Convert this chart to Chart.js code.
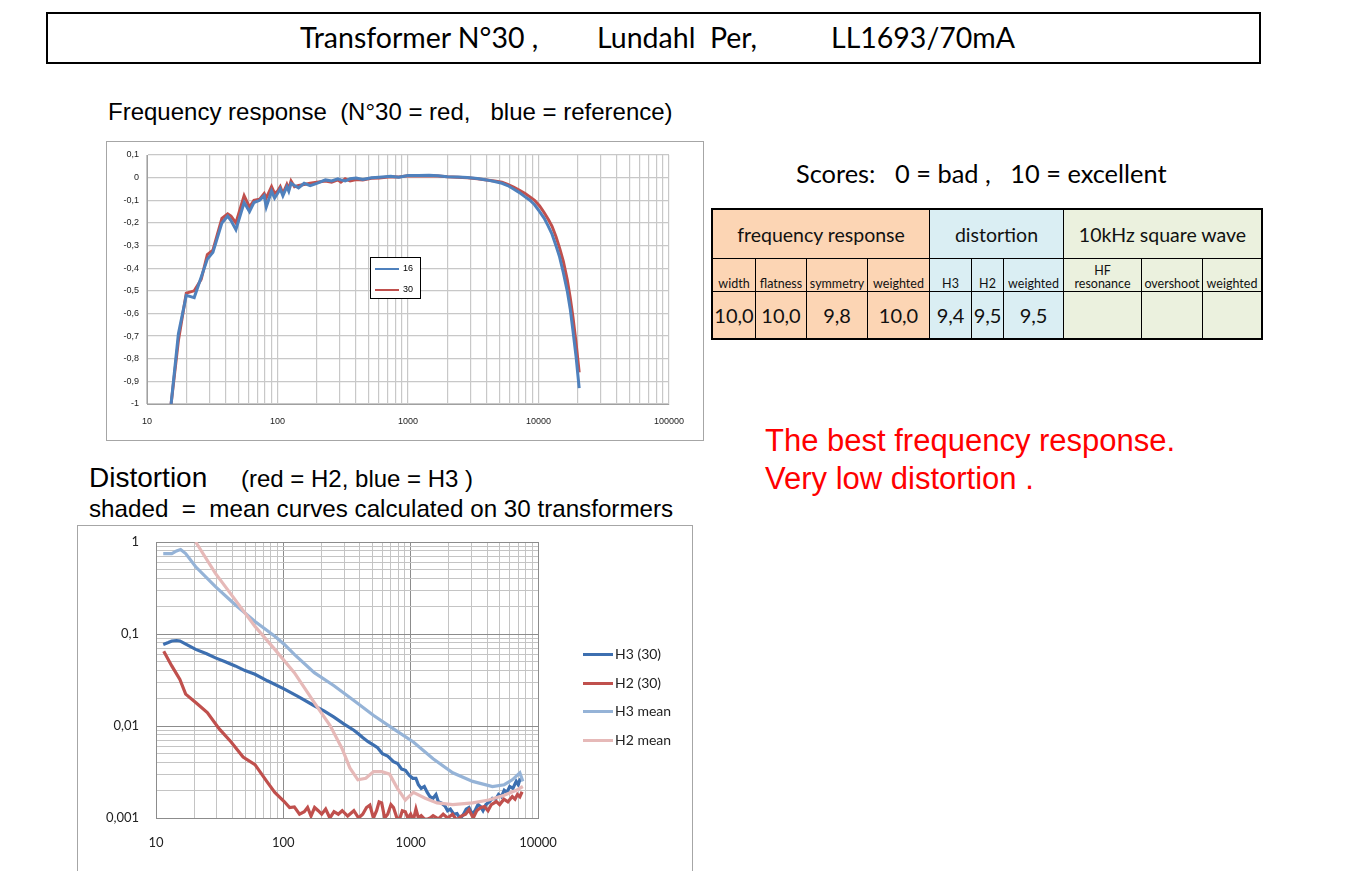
<!DOCTYPE html>
<html>
<head>
<meta charset="utf-8">
<script src="https://cdn.jsdelivr.net/npm/chart.js@4.4.1/dist/chart.umd.min.js"></script>
<style>
  body { margin: 0; width: 1348px; height: 871px; background: #fff; position: relative; overflow: hidden; font-family: "Liberation Sans", Arial, sans-serif; }
  .abs { position: absolute; white-space: pre; }
  #titleBox { left: 46px; top: 12px; width: 1211px; height: 48px; border: 2px solid #000; }
  .cal { font-family: Lato, "Open Sans", sans-serif; }
  #frame1 { left: 106px; top: 141px; width: 596px; height: 298px; border: 1px solid #a6a6a6; }
  #frame2 { left: 77px; top: 525px; width: 614px; height: 360px; border: 1px solid #a6a6a6; }
  .leg1 { left: 370px; top: 257px; width: 49px; height: 40px; border: 1px solid #000; background: #fff; font-size: 9px; }
  .sw { position: absolute; height: 0; }
  table { position: absolute; left: 711px; top: 208px; border-collapse: collapse; font-family: Lato, "Open Sans", sans-serif; border: 2px solid #000; }
  td { border: 1px solid #000; text-align: center; padding: 0; color: #111; }
  .o { background: #fcd5b4; } .b { background: #daeef3; } .g { background: #ebf1de; }
  .h td { height: 48px; font-size: 19.5px; }
  .s td { height: 31px; font-size: 12.5px; vertical-align: bottom; padding-bottom: 1px; line-height: 13px; }
  .v td { height: 46px; font-size: 20px; }
</style>
</head>
<body>
<div class="abs" id="titleBox"></div>
<div class="abs cal" style="left:300px;top:20px;font-size:28.5px;">Transformer N°30 ,</div>
<div class="abs cal" style="left:597px;top:20px;font-size:28.5px;">Lundahl  Per,</div>
<div class="abs cal" style="left:831px;top:20px;font-size:28.5px;">LL1693/70mA</div>

<div class="abs" style="left:108px;top:98px;font-size:24px;">Frequency response  (N°30 = red,   blue = reference)</div>
<div class="abs" id="frame1"></div>
<div class="abs" style="left:107px;top:142px;width:596px;height:298px;"><canvas id="freqChart"></canvas></div>
<div class="abs leg1">
  <div class="sw" style="left:4px;top:10px;width:24px;border-top:2px solid #4f81bd;"></div>
  <div class="abs" style="left:32px;top:5px;">16</div>
  <div class="sw" style="left:4px;top:31px;width:24px;border-top:2px solid #c0504d;"></div>
  <div class="abs" style="left:32px;top:26px;">30</div>
</div>

<div class="abs" style="left:89px;top:462px;font-size:28px;">Distortion</div>
<div class="abs" style="left:241px;top:465px;font-size:24px;">(red = H2, blue = H3 )</div>
<div class="abs" style="left:89px;top:495px;font-size:24.2px;">shaded  =  mean curves calculated on 30 transformers</div>
<div class="abs" id="frame2"></div>
<div class="abs" style="left:78px;top:526px;width:614px;height:345px;"><canvas id="distChart"></canvas></div>
<div id="leg2"></div>

<div class="abs cal" style="left:796px;top:158px;font-size:25.4px;">Scores:   0 = bad ,   10 = excellent</div>
<table>
  <tr class="h">
    <td class="o" colspan="4" style="width:216px;">frequency response</td>
    <td class="b" colspan="3" style="width:133px;">distortion</td>
    <td class="g" colspan="3" style="width:197px;">10kHz  square wave</td>
  </tr>
  <tr class="s">
    <td class="o" style="width:42px;">width</td>
    <td class="o" style="width:50px;">flatness</td>
    <td class="o" style="width:60px;">symmetry</td>
    <td class="o" style="width:61px;">weighted</td>
    <td class="b" style="width:41px;">H3</td>
    <td class="b" style="width:31px;">H2</td>
    <td class="b" style="width:59px;">weighted</td>
    <td class="g" style="width:77px;">HF<br>resonance</td>
    <td class="g" style="width:60px;">overshoot</td>
    <td class="g" style="width:58px;">weighted</td>
  </tr>
  <tr class="v">
    <td class="o">10,0</td><td class="o">10,0</td><td class="o">9,8</td><td class="o">10,0</td>
    <td class="b">9,4</td><td class="b">9,5</td><td class="b">9,5</td>
    <td class="g"></td><td class="g"></td><td class="g"></td>
  </tr>
</table>

<div class="abs" style="left:765px;top:423px;font-size:31px;color:#ff0000;">The best frequency response.</div>
<div class="abs" style="left:765px;top:461px;font-size:31px;color:#ff0000;">Very low distortion .</div>

<script>
// ---- frequency response (dB) ----
const respFreq = [15.3, 17.4, 20, 23, 26, 29, 32, 37.5, 41.5, 44, 48, 55.5, 61, 66, 73, 79, 82, 90, 95, 100,
  105, 110, 118, 122, 127, 135, 145, 160, 178, 200, 233, 260, 290, 306, 330, 360, 401, 450, 525, 600,
  738, 850, 1000, 1200, 1450, 1700, 2000, 2400, 2850, 3400, 4000, 4600, 5250, 5800, 6440, 7100, 7900, 8600,
  9330, 10200, 11070, 11900, 12700, 13600, 14500, 15500, 16600, 17500, 18400, 19400, 20500];
const resp30 = [-1.00, -0.72, -0.51, -0.50, -0.45, -0.34, -0.32, -0.18, -0.16, -0.17, -0.20, -0.08, -0.13, -0.10, -0.095, -0.07, -0.09, -0.04, -0.07, -0.06,
  -0.04, -0.07, -0.03, -0.05, -0.015, -0.04, -0.035, -0.03, -0.025, -0.02, -0.015, -0.02, -0.01, -0.02, -0.005, -0.015, -0.008, -0.01, -0.003, -0.002,
  0.004, 0.003, 0.008, 0.007, 0.008, 0.007, 0.004, 0.002, 0.0, -0.005, -0.01, -0.015, -0.02, -0.03, -0.042, -0.055, -0.07, -0.085,
  -0.10, -0.125, -0.155, -0.185, -0.215, -0.26, -0.31, -0.37, -0.45, -0.53, -0.62, -0.73, -0.86];
const resp16 = [-1.00, -0.69, -0.52, -0.53, -0.44, -0.36, -0.33, -0.20, -0.17, -0.19, -0.23, -0.11, -0.15, -0.11, -0.10, -0.08, -0.13, -0.06, -0.09, -0.07,
  -0.05, -0.08, -0.04, -0.06, -0.025, -0.035, -0.045, -0.025, -0.035, -0.025, -0.01, -0.015, -0.005, -0.01, -0.015, -0.005, -0.002, -0.008, -0.001, 0.002,
  0.006, 0.002, 0.009, 0.009, 0.01, 0.008, 0.004, 0.003, 0.001, -0.004, -0.01, -0.017, -0.025, -0.035, -0.05, -0.065, -0.085, -0.10,
  -0.12, -0.15, -0.18, -0.215, -0.25, -0.30, -0.35, -0.42, -0.50, -0.58, -0.68, -0.79, -0.93];
const respDecades = [10, 100, 1000, 10000, 100000];

// ---- distortion (%) ----
const h3Freq = [11.4, 12.5, 13.3, 14.5, 15.4, 17, 20.5, 25, 29.3, 35, 41.9, 50, 59.9, 75, 102, 130, 175, 210, 250, 300,
  358, 390, 420, 460, 512, 550, 600, 660, 733, 790, 850, 910, 976, 1040, 1100, 1150, 1210, 1280, 1350, 1420,
  1500, 1580, 1650, 1750, 1860, 1950, 2050, 2180, 2310, 2450, 2600, 2730, 2870, 3050, 3200, 3380, 3540, 3700, 3900, 4150,
  4390, 4650, 4900, 5150, 5430, 5700, 6000, 6350, 6740, 7000, 7200, 7500];
const h3Vals = [0.077, 0.081, 0.084, 0.085, 0.084, 0.078, 0.068, 0.061, 0.055, 0.05, 0.045, 0.04, 0.0365, 0.031, 0.0252, 0.021, 0.0166, 0.0145, 0.0125, 0.0105,
  0.009, 0.0082, 0.0075, 0.0068, 0.0062, 0.0058, 0.005, 0.0047, 0.0041, 0.0039, 0.0034, 0.0033, 0.0029, 0.0027, 0.0027, 0.0023, 0.0021, 0.0022, 0.0019, 0.0017,
  0.00164, 0.0018, 0.0015, 0.00145, 0.00135, 0.0012, 0.00125, 0.0011, 0.00112, 0.00098, 0.0011, 0.00125, 0.0013, 0.0011, 0.0012, 0.0014, 0.00133, 0.0012, 0.0014, 0.0015,
  0.00164, 0.0016, 0.0018, 0.0017, 0.002, 0.0019, 0.0022, 0.0021, 0.0025, 0.0023, 0.0026, 0.0027];
const h2Freq = [11.5, 13.3, 15.4, 17.1, 20.5, 25.3, 31.4, 38.9, 48.3, 59.9, 74.1, 85.7,
  102, 112, 122, 134, 146, 155, 165, 176, 188, 200, 215, 232, 250, 270, 290, 320, 358, 390, 420, 450,
  478, 510, 540, 565, 592, 625, 660, 700, 733, 780, 820, 860, 908, 950, 1000, 1050, 1100, 1150, 1210, 1280,
  1350, 1420, 1500, 1650, 1800, 1950, 2130, 2300, 2500, 2700, 2870, 3100, 3300, 3550, 3800, 4050, 4300, 4710, 5000, 5400,
  5800, 6280, 6600, 6900, 7200, 7500];
const h2Vals = [0.065, 0.045, 0.032, 0.0222, 0.018, 0.014, 0.0093, 0.0067, 0.0046, 0.0038, 0.0025, 0.0019,
  0.0015, 0.0013, 0.00132, 0.0011, 0.00117, 0.0013, 0.00105, 0.0013, 0.0012, 0.0011, 0.00125, 0.001, 0.00117, 0.0011, 0.0012, 0.00105, 0.0012, 0.001, 0.0011, 0.0013,
  0.00138, 0.001, 0.0012, 0.0015, 0.00146, 0.001, 0.0011, 0.0014, 0.0013, 0.001, 0.00098, 0.0012, 0.00117, 0.001, 0.0011, 0.00095, 0.00125, 0.001, 0.00106, 0.00098,
  0.00097, 0.001, 0.00106, 0.00098, 0.0011, 0.001, 0.0011, 0.00095, 0.00105, 0.0011, 0.00123, 0.001, 0.0012, 0.0013, 0.00133, 0.0012, 0.0014, 0.00151, 0.0014, 0.0016,
  0.0015, 0.00171, 0.0016, 0.0018, 0.0017, 0.00193];
const h3MeanFreq = [11.4, 13.3, 14.5, 15.6, 17.1, 20.5, 29.3, 41.9, 59.9, 85.7, 102, 122, 175, 250, 358, 512, 733, 1050, 1500, 2140, 3070, 4390, 5430, 6280, 7200, 7600];
const h3MeanVals = [0.748, 0.748, 0.8, 0.827, 0.748, 0.538, 0.327, 0.208, 0.137, 0.0946, 0.077, 0.06, 0.038, 0.0274, 0.0189, 0.013, 0.0093, 0.0067, 0.0044, 0.0031, 0.0025, 0.0022, 0.0023, 0.0026, 0.0031, 0.0025];
const h2MeanFreq = [20.5, 29.3, 41.9, 59.9, 85.7, 122, 175, 233, 289, 333, 385, 444, 512, 592, 683, 787, 908, 1050, 1300, 1610, 2140, 3070, 4100, 5430, 6740, 7600];
const h2MeanVals = [1.0, 0.456, 0.235, 0.121, 0.068, 0.038, 0.018, 0.0101, 0.0057, 0.0035, 0.0026, 0.0027, 0.0032, 0.0032, 0.003, 0.0021, 0.00157, 0.0019, 0.00164, 0.00146, 0.0014, 0.00146, 0.00157, 0.00177, 0.002, 0.0022];
const distDecades = [10, 100, 1000, 10000];
const distYDecades = [0.001, 0.01, 0.1, 1];
const distYLabels = ['0,001', '0,01', '0,1', '1'];

const distSeries = [
  { label: 'H3 (30)', freq: h3Freq, vals: h3Vals, color: '#3d6fb0' },
  { label: 'H2 (30)', freq: h2Freq, vals: h2Vals, color: '#c0504d' },
  { label: 'H3 mean', freq: h3MeanFreq, vals: h3MeanVals, color: '#95b3d7' },
  { label: 'H2 mean', freq: h2MeanFreq, vals: h2MeanVals, color: '#e6b9b8' }
];

function pts(freq, vals) {
  return freq.map((f, i) => ({ x: f, y: vals[i] }));
}

// 1..9 x 10^n tick positions between two decades
function logTicks(lo, hi) {
  let t = [];
  for (let d = lo; d < hi; d *= 10) {
    for (let k = 1; k < 10; k++) t.push(Number((k * d).toPrecision(3)));
  }
  t.push(hi);
  return t;
}

function isDecade(v, list) {
  return list.some(d => Math.abs(v / d - 1) < 1e-6);
}

new Chart(document.getElementById('freqChart'), {
  type: 'line',
  data: {
    datasets: [
      { label: '16', data: pts(respFreq, resp16), borderColor: '#4f81bd', borderWidth: 3, pointRadius: 0 },
      { label: '30', data: pts(respFreq, resp30), borderColor: '#c0504d', borderWidth: 3, pointRadius: 0 }
    ]
  },
  options: {
    responsive: true,
    maintainAspectRatio: false,
    animation: false,
    layout: { padding: { top: 13, right: 34, left: 0, bottom: 0 } },
    plugins: { legend: { display: false }, tooltip: { enabled: false } },
    scales: {
      x: {
        type: 'logarithmic', min: 10, max: 100000,
        afterBuildTicks: s => { s.ticks = logTicks(10, 100000).map(v => ({ value: v })); },
        afterFit: s => { s.height = 36; },
        ticks: {
          autoSkip: false, maxRotation: 0, padding: 12,
          font: { family: 'Liberation Sans', size: 9 }, color: '#222',
          callback: v => isDecade(v, respDecades) ? String(v) : ''
        },
        grid: { color: '#c8c8c8', lineWidth: 1.2, drawTicks: false },
        border: { color: '#a0a0a0' }
      },
      y: {
        min: -1, max: 0.1,
        afterBuildTicks: s => { let t = []; for (let i = -10; i <= 1; i++) t.push({ value: i / 10 }); s.ticks = t; },
        afterFit: s => { s.width = 40; s.paddingTop = 0; s.paddingBottom = 0; },
        ticks: {
          padding: 8,
          font: { family: 'Liberation Sans', size: 9 }, color: '#222',
          callback: v => String(Math.round(v * 10) / 10).replace('.', ',')
        },
        grid: { color: '#c8c8c8', lineWidth: 1.2, drawTicks: false },
        border: { color: '#a0a0a0' }
      }
    }
  }
});

new Chart(document.getElementById('distChart'), {
  type: 'line',
  data: {
    datasets: distSeries.slice().reverse().map(s => ({
      label: s.label, data: pts(s.freq, s.vals), borderColor: s.color, borderWidth: 3.2, pointRadius: 0
    }))
  },
  options: {
    responsive: true,
    maintainAspectRatio: false,
    animation: false,
    layout: { padding: { top: 16, right: 154, left: 0, bottom: 0 } },
    plugins: { legend: { display: false }, tooltip: { enabled: false } },
    scales: {
      x: {
        type: 'logarithmic', min: 10, max: 10000,
        afterBuildTicks: s => { s.ticks = logTicks(10, 10000).map(v => ({ value: v })); },
        afterFit: s => { s.height = 53; },
        ticks: {
          autoSkip: false, maxRotation: 0, padding: 17,
          font: { family: 'Lato', size: 13 }, color: '#222',
          callback: v => isDecade(v, distDecades) ? String(v) : ''
        },
        grid: { color: c => isDecade(c.tick.value, distDecades) ? '#8c8c8c' : '#c4c4c4', lineWidth: 1, drawTicks: false },
        border: { color: '#8c8c8c' }
      },
      y: {
        type: 'logarithmic', min: 0.001, max: 1,
        afterBuildTicks: s => { s.ticks = logTicks(0.001, 1).map(v => ({ value: v })); },
        afterFit: s => { s.width = 78; s.paddingTop = 0; s.paddingBottom = 0; },
        ticks: {
          autoSkip: false, padding: 17,
          font: { family: 'Lato', size: 13 }, color: '#222',
          callback: v => { let i = distYDecades.findIndex(d => Math.abs(v / d - 1) < 1e-6); return i >= 0 ? distYLabels[i] : ''; }
        },
        grid: { color: c => isDecade(c.tick.value, distYDecades) ? '#8c8c8c' : '#c4c4c4', lineWidth: 1, drawTicks: false },
        border: { color: '#8c8c8c' }
      }
    }
  }
});

// legend for the distortion chart
const leg2 = document.getElementById('leg2');
distSeries.forEach((s, i) => {
  const top = 654 + i * 28.7;
  leg2.insertAdjacentHTML('beforeend',
    `<div class="sw" style="left:583px;top:${top - 1}px;width:30px;border-top:3px solid ${s.color};"></div>` +
    `<div class="abs cal" style="left:615px;top:${top - 9}px;font-size:14px;color:#222;">${s.label}</div>`);
});
</script>
</body>
</html>
